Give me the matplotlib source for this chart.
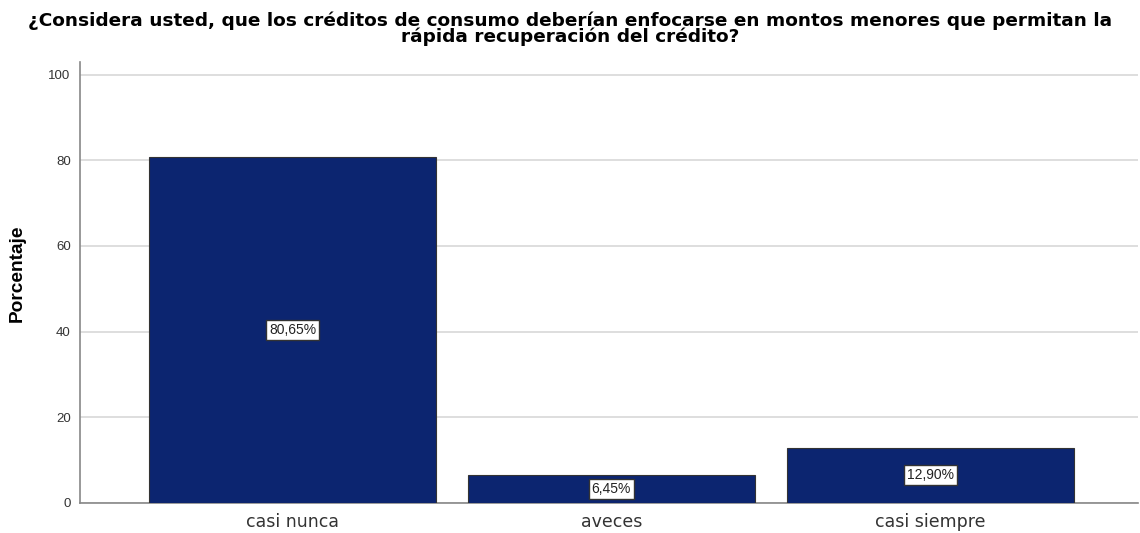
import matplotlib.pyplot as plt

# Frequencies (percent) for each answer
categorias = ['casi nunca', 'aveces', 'casi siempre']
porcentajes = [80.65, 6.45, 12.90]
etiquetas = ['80,65%', '6,45%', '12,90%']

titulo = ('¿Considera usted, que los créditos de consumo deberían enfocarse en montos menores que permitan la\n'
          'rápida recuperación del crédito?')

plt.rcParams['font.family'] = ['Liberation Sans', 'DejaVu Sans']

fig = plt.figure(figsize=(11.4, 5.33), dpi=100)
ax = fig.add_axes([0.0705, 0.0563, 0.9275, 0.828])

x = range(len(categorias))
ax.bar(x, porcentajes, width=0.9, color='#0c2570', edgecolor='#333333', linewidth=0.8, zorder=3)

# value labels in white boxes, halfway up each bar
for xi, val, txt in zip(x, porcentajes, etiquetas):
    ax.text(xi, val / 2, txt, ha='center', va='center', fontsize=10, color='#222222', zorder=4,
            bbox=dict(boxstyle='square,pad=0.22', facecolor='white', edgecolor='#333333', linewidth=1.0))

ax.set_xlim(-0.665, 2.65)
ax.set_ylim(0, 103)
ax.set_yticks([0, 20, 40, 60, 80, 100])
ax.set_xticks(list(x))
ax.set_xticklabels(categorias, fontsize=12.5, color='#333333', family='DejaVu Sans')
ax.tick_params(axis='y', labelsize=9.5, labelcolor='#333333', length=0, pad=7)
ax.tick_params(axis='x', length=0, pad=7)
ax.grid(axis='y', color='#d8d8d8', linewidth=1.2, zorder=0)

for side in ['top', 'right']:
    ax.spines[side].set_visible(False)
ax.spines['left'].set_color('#888888')
ax.spines['bottom'].set_color('#888888')
ax.spines['left'].set_linewidth(1.2)
ax.spines['bottom'].set_linewidth(1.2)

ax.set_ylabel('Porcentaje', fontsize=13.8, fontweight='bold',
              family=['Liberation Sans Narrow', 'Liberation Sans'])
ax.yaxis.set_label_coords(-0.052, 0.52)
fig.text(0.5, 0.978, titulo, ha='center', va='top', fontsize=13.3, fontweight='bold',
         family='DejaVu Sans', linespacing=0.82)

fig.savefig('out.png', dpi=100)
